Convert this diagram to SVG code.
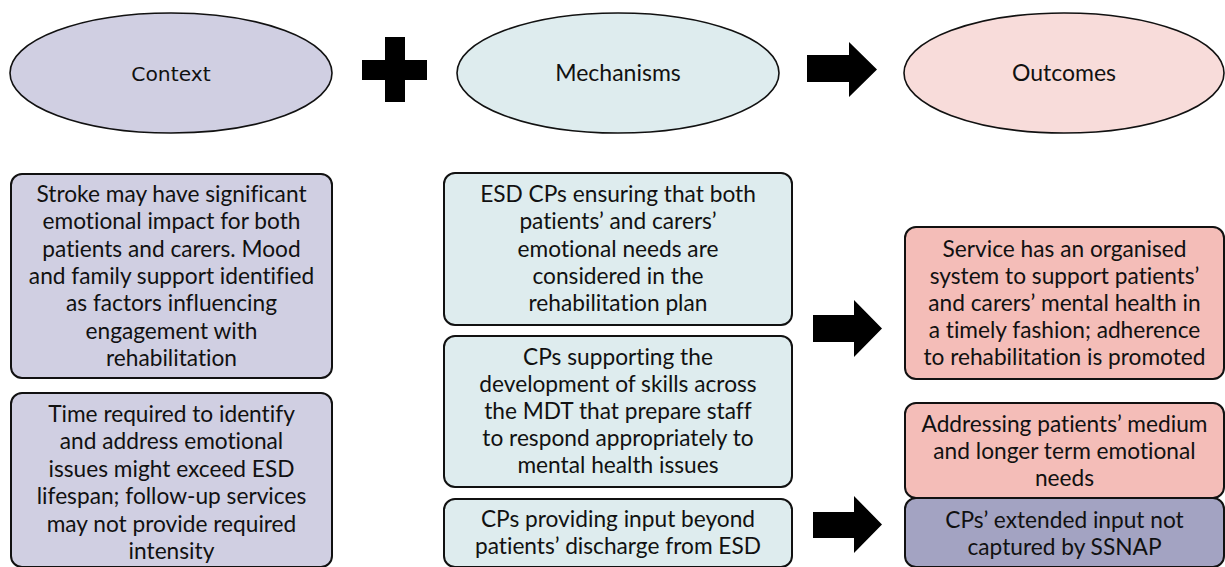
<svg xmlns="http://www.w3.org/2000/svg" width="1225" height="567" viewBox="0 0 1225 567">
<style>
.sh{stroke:#111;stroke-width:2}
.el{stroke:#111;stroke-width:1.6}
.ctx{fill:#d0cfe2}
.mec{fill:#deecee}
.out{fill:#f8dcda}
.outb{fill:#f4bdb8}
.ssn{fill:#a3a3c2}
text{font-family:Lato,"Noto Sans",sans-serif;font-size:22.7px;fill:#111;text-anchor:middle;font-variant-ligatures:none;font-feature-settings:"liga" 0,"dlig" 0}
.lbl{font-size:23px}
.dv{font-family:"DejaVu Sans",Verdana,sans-serif;font-size:20.3px}
.sym{fill:#000}
</style>
<g id="context-ellipse"><ellipse class="el ctx" cx="171" cy="73" rx="161" ry="60"/><text class="dv" x="171" y="81">Context</text></g>
<g id="mechanisms-ellipse"><ellipse class="el mec" cx="618" cy="73" rx="161" ry="60"/><text class="lbl" x="618" y="81">Mechanisms</text></g>
<g id="outcomes-ellipse"><ellipse class="el out" cx="1064" cy="73" rx="160" ry="60"/><text class="lbl" x="1064" y="81">Outcomes</text></g>

<g id="context-1"><rect class="sh ctx" x="11" y="174" width="321" height="204" rx="11"/>
<text x="171.5" y="202">Stroke may have significant</text>
<text x="171.5" y="229.3">emotional impact for both</text>
<text x="171.5" y="256.6">patients and carers. Mood</text>
<text x="171.5" y="283.9">and family support identified</text>
<text x="171.5" y="311.2">as factors influencing</text>
<text x="171.5" y="338.5">engagement with</text>
<text x="171.5" y="365.8">rehabilitation</text></g>

<g id="context-2"><rect class="sh ctx" x="11" y="393" width="321" height="174" rx="11"/>
<text x="171.5" y="421.5">Time required to identify</text>
<text x="171.5" y="449">and address emotional</text>
<text x="171.5" y="476.5">issues might exceed ESD</text>
<text x="171.5" y="504">lifespan; follow-up services</text>
<text x="171.5" y="531.5">may not provide required</text>
<text x="171.5" y="559">intensity</text></g>

<g id="mech-1"><rect class="sh mec" x="444" y="173" width="348" height="152" rx="11"/>
<text x="618" y="202">ESD CPs ensuring that both</text>
<text x="618" y="229.3">patients’ and carers’</text>
<text x="618" y="256.6">emotional needs are</text>
<text x="618" y="283.9">considered in the</text>
<text x="618" y="311.2">rehabilitation plan</text></g>

<g id="mech-2"><rect class="sh mec" x="444" y="336" width="348" height="151" rx="11"/>
<text x="618" y="365">CPs supporting the</text>
<text x="618" y="392">development of skills across</text>
<text x="618" y="419">the MDT that prepare staff</text>
<text x="618" y="446">to respond appropriately to</text>
<text x="618" y="473">mental health issues</text></g>

<g id="mech-3"><rect class="sh mec" x="444" y="499" width="348" height="68" rx="11"/>
<text x="618" y="527">CPs providing input beyond</text>
<text x="618" y="554">patients’ discharge from ESD</text></g>

<g id="outcome-1"><rect class="sh outb" x="905" y="227" width="319" height="152" rx="11"/>
<text x="1064.5" y="257">Service has an organised</text>
<text x="1064.5" y="284">system to support patients’</text>
<text x="1064.5" y="311">and carers’ mental health in</text>
<text x="1064.5" y="338">a timely fashion; adherence</text>
<text x="1064.5" y="365">to rehabilitation is promoted</text></g>

<g id="outcome-2"><rect class="sh outb" x="905" y="403" width="319" height="95" rx="11"/>
<text x="1064.5" y="432">Addressing patients’ medium</text>
<text x="1064.5" y="459">and longer term emotional</text>
<text x="1064.5" y="486">needs</text></g>

<g id="outcome-3"><rect class="sh ssn" x="905" y="498" width="319" height="69" rx="11"/>
<text x="1064.5" y="528">CPs’ extended input not</text>
<text x="1064.5" y="555">captured by SSNAP</text></g>

<g id="connectors">
<path class="sym" d="M385 37H405V60H427V80H405V102H385V80H362V60H385Z"/>
<path class="sym" d="M807 55H849V42L877 69.5L849 97V82H807Z"/>
<path class="sym" d="M813 315H854V300L882 328.5L854 357V342H813Z"/>
<path class="sym" d="M813 512H854V496L882 524.5L854 553V538H813Z"/>
</g>
</svg>
